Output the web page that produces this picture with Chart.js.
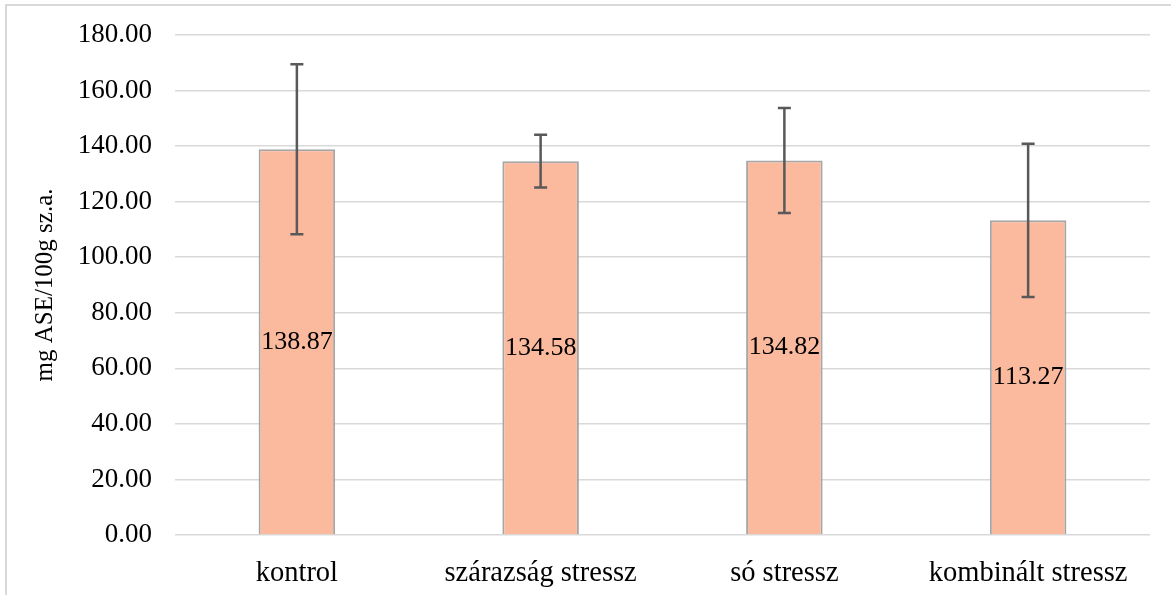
<!DOCTYPE html>
<html>
<head>
<meta charset="utf-8">
<script src="https://cdn.jsdelivr.net/npm/chart.js@4.4.1/dist/chart.umd.min.js"></script>
<style>
  html, body { margin: 0; padding: 0; background: #fff; overflow: hidden; }
  #frame { position: absolute; left: 5px; top: 4px; width: 1300px; height: 800px; border: 2px solid #d9d9d9; box-sizing: border-box; }
  #wrap { position: absolute; left: 0; top: 0; width: 1171px; height: 595px; }
</style>
</head>
<body>
<div id="frame"></div>
<div id="wrap"><canvas id="myChart" width="1171" height="595"></canvas></div>
<script>
const CHART = document.getElementById("myChart");
const labels = ['kontrol', 'szárazság stressz', 'só stressz', 'kombinált stressz'];
const means = [138.87, 134.58, 134.82, 113.27];
const errors = [30.6, 9.5, 18.9, 27.6];
const FONT = "'Liberation Serif', 'Times New Roman', serif";

// error bars + centred value labels
const extras = {
  id: 'extras',
  afterDatasetsDraw(chart) {
    const ctx = chart.ctx;
    const y = chart.scales.y;
    const meta = chart.getDatasetMeta(0);
    ctx.save();
    meta.data.forEach((bar, i) => {
      const x = bar.x;
      const top = y.getPixelForValue(means[i] + errors[i]);
      const bot = y.getPixelForValue(means[i] - errors[i]);
      ctx.strokeStyle = '#595959';
      ctx.lineWidth = 2.5;
      ctx.beginPath();
      ctx.moveTo(x, top); ctx.lineTo(x, bot);
      ctx.moveTo(x - 6.5, top); ctx.lineTo(x + 6.5, top);
      ctx.moveTo(x - 6.5, bot); ctx.lineTo(x + 6.5, bot);
      ctx.stroke();
    });
    meta.data.forEach((bar, i) => {
      ctx.fillStyle = '#000';
      ctx.font = '26px ' + FONT;
      ctx.textAlign = 'center';
      ctx.textBaseline = 'middle';
      ctx.fillText(means[i].toFixed(2), bar.x, (bar.y + bar.base) / 2);
    });
    ctx.restore();
  }
};

let barchart = new Chart(CHART, {
  type: 'bar',
  data: {
    labels: labels,
    datasets: [{
      data: means,
      backgroundColor: '#fbb99d',
      borderColor: '#a6a6a6',
      borderWidth: 2,
      categoryPercentage: 1,
      barPercentage: 0.314
    }]
  },
  options: {
    responsive: false,
    animation: false,
    layout: { padding: { top: 35, right: 21, bottom: 0, left: 0 } },
    plugins: { legend: { display: false }, tooltip: { enabled: false } },
    scales: {
      x: {
        grid: { display: false },
        border: { display: false },
        ticks: { color: '#000', font: { family: FONT, size: 28.5 }, padding: 13, maxRotation: 0 },
        afterFit(scale) { scale.height = 60; }
      },
      y: {
        min: 0, max: 180,
        grid: { color: '#d9d9d9', lineWidth: 1.5, drawTicks: false },
        border: { display: false },
        ticks: {
          stepSize: 20, color: '#000', padding: 23,
          font: { family: FONT, size: 27 },
          callback: v => v.toFixed(2)
        },
        title: { display: true, text: 'mg ASE/100g sz.a.', color: '#000', font: { family: FONT, size: 25 }, padding: { top: 30, bottom: 0 } },
        afterFit(scale) { scale.width = 175; scale.paddingTop = 0; scale.paddingBottom = 0; }
      }
    }
  },
  plugins: [extras]
});
</script>
</body>
</html>
